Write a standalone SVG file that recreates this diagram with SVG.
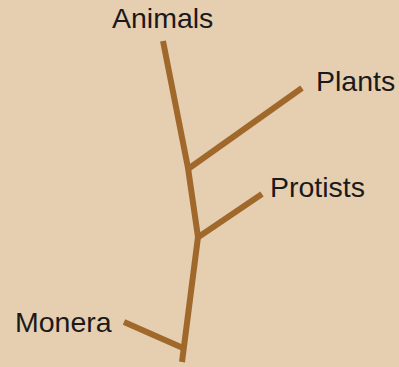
<svg xmlns="http://www.w3.org/2000/svg" width="399" height="367" viewBox="0 0 399 367">
<style>
.l{stroke:#A0692B;stroke-width:6;fill:none;stroke-linecap:butt;stroke-linejoin:miter}
.t{font-family:"Liberation Sans",Arial,sans-serif;font-size:28.5px;fill:#1a1a1a}
</style>
<rect width="399" height="367" fill="#E6CEB1"/>
<g id="connectors">
<polyline class="l" points="163,41 188,168 198,237 182,362"/>
<line class="l" x1="188" y1="169" x2="302" y2="88"/>
<line class="l" x1="197" y1="238" x2="262" y2="194"/>
<line class="l" x1="124" y1="322" x2="183" y2="348"/>
</g>
<g id="animals"><text class="t" x="112" y="28">Animals</text></g>
<g id="plants"><text class="t" x="316" y="91">Plants</text></g>
<g id="protists"><text class="t" x="270" y="197">Protists</text></g>
<g id="monera"><text class="t" x="15" y="332">Monera</text></g>
</svg>
